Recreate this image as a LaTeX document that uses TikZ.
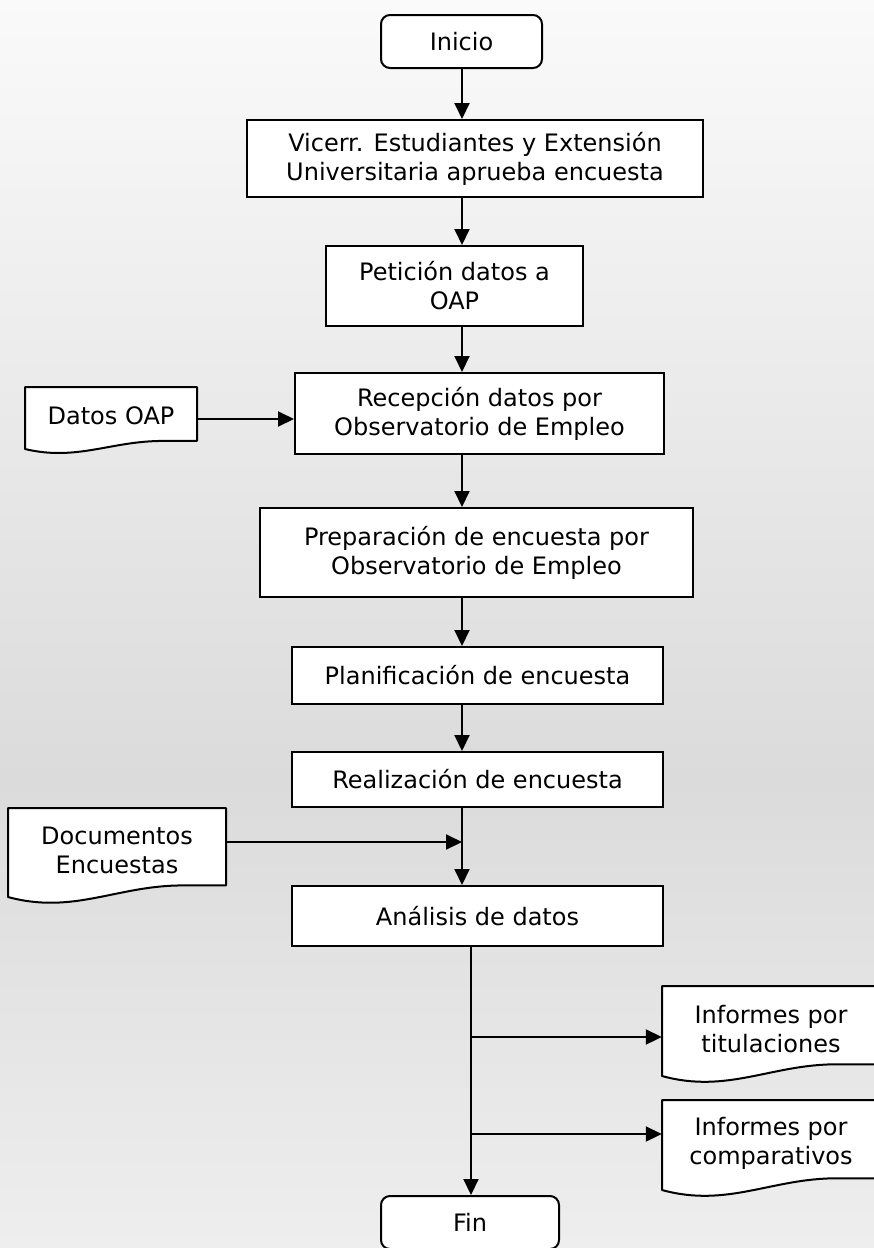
\documentclass[tikz,border=0pt]{standalone}
\usepackage{fontspec}
\setmainfont{DejaVu Sans}
\usetikzlibrary{arrows.meta,calc}
\definecolor{bgtop}{HTML}{FAFAFA}
\definecolor{bgmid}{HTML}{DBDBDB}
\definecolor{bgbot}{HTML}{EEEEEE}
\newcommand\docshape[4]{% L T W H
  \path[docline] (#1,#2) -- ({#1+#3},#2) -- ({#1+#3},{#2+0.87*#4}) -- ({#1+0.8*#3},{#2+0.87*#4})
    .. controls ({#1+0.5*#3},{#2+0.87*#4}) and ({#1+0.3*#3},{#2+1.2*#4}) .. (#1,{#2+#4}) -- cycle;}
\begin{document}
\begin{tikzpicture}[x=1pt,y=-1pt,
  proc/.style={draw=black, line width=2pt, fill=white, rectangle, inner sep=0pt, align=center,
    font=\fontsize{24}{29}\selectfont},
  term/.style={proc, rounded corners=9pt},
  doctext/.style={inner sep=0pt, align=center, font=\fontsize{24}{29}\selectfont},
  docline/.style={draw=black, line width=2pt, fill=white, line join=round},
  arr/.style={line width=2pt, -{Triangle[length=16pt,width=15pt]}}]
\useasboundingbox (0,0) rectangle (874,1248);
\fill[top color=bgtop, bottom color=bgmid] (0,0) rectangle (874,781);
\fill[top color=bgmid, bottom color=bgbot] (0,779) rectangle (874,1248);

% spines
\coordinate (sp) at (462,0);
\coordinate (sp2) at (471,0);

% process nodes
\node[term, minimum width=161pt, minimum height=53pt] (inicio) at (461.5,41.5) {Inicio};
\node[proc, minimum width=456pt, minimum height=77pt] (vicerr) at (475,158.5)
  {Vicerr. Estudiantes y Extensión\\Universitaria aprueba encuesta};
\node[proc, minimum width=257pt, minimum height=80pt] (peticion) at (454.5,286)
  {Petición datos a\\OAP};
\node[proc, minimum width=369pt, minimum height=81pt] (recepcion) at (479.5,413.5)
  {Recepción datos por\\Observatorio de Empleo};
\node[proc, minimum width=433pt, minimum height=89pt] (preparacion) at (476.5,552.5)
  {Preparación de encuesta por\\Observatorio de Empleo};
\node[proc, minimum width=371pt, minimum height=57pt] (planif) at (477.5,675.5)
  {Planificación de encuesta};
\node[proc, minimum width=371pt, minimum height=55pt] (realiz) at (477.5,779.5)
  {Realización de encuesta};
\node[proc, minimum width=371pt, minimum height=60pt] (analisis) at (477.5,916)
  {Análisis de datos};
\node[term, minimum width=178pt, minimum height=53pt] (fin) at (470,1222.5) {Fin};

% documents
\docshape{25}{387}{172}{62}
\node[doctext, minimum width=172pt, minimum height=62pt] (datos) at (111,416) {Datos OAP};
\docshape{8}{808}{218}{89}
\node[doctext, minimum width=218pt, minimum height=89pt] (docs) at (117,850) {Documentos\\Encuestas};
\docshape{662}{986}{218}{90}
\node[doctext, minimum width=218pt, minimum height=90pt] (inftit) at (771,1029) {Informes por\\titulaciones};
\docshape{662}{1100}{218}{90}
\node[doctext, minimum width=218pt, minimum height=90pt] (infcomp) at (771,1143) {Informes por\\comparativos};

% connectors
\draw[arr] (sp |- inicio.south) -- (sp |- vicerr.north);
\draw[arr] (sp |- vicerr.south) -- (sp |- peticion.north);
\draw[arr] (sp |- peticion.south) -- (sp |- recepcion.north);
\draw[arr] (sp |- recepcion.south) -- (sp |- preparacion.north);
\draw[arr] (sp |- preparacion.south) -- (sp |- planif.north);
\draw[arr] (sp |- planif.south) -- (sp |- realiz.north);
\draw[arr] (sp |- realiz.south) -- (sp |- analisis.north);
\coordinate (j0) at (197,419);
\draw[arr] (datos.east |- j0) -- (j0 -| recepcion.west);
\coordinate (j1) at (462,842);
\draw[arr] (docs.east |- j1) -- (j1);
\draw[arr] (sp2 |- analisis.south) -- (sp2 |- fin.north);
\coordinate (b1) at (471,1037);
\coordinate (b2) at (471,1134);
\draw[arr] (b1) -- (b1 -| inftit.west);
\draw[arr] (b2) -- (b2 -| infcomp.west);
\end{tikzpicture}
\end{document}
